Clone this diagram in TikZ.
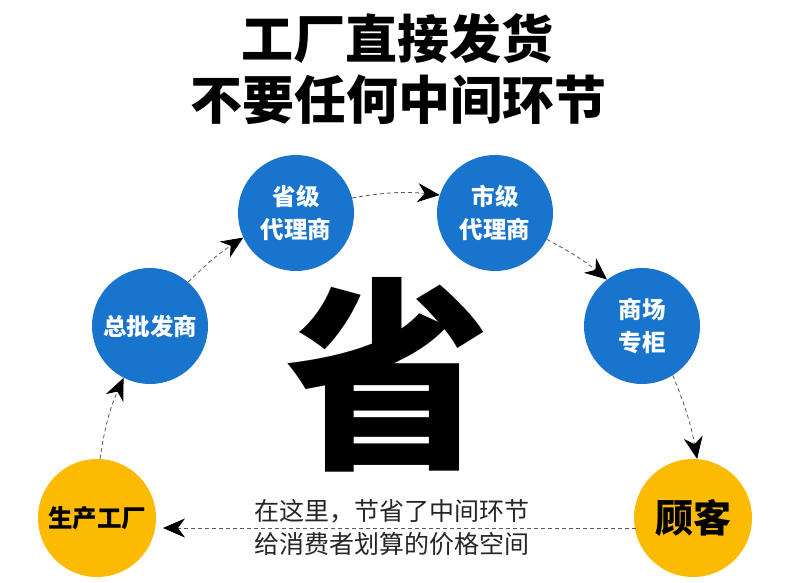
\documentclass[tikz,border=0pt]{standalone}
\usepackage{fontspec}
\newfontfamily\cjk{Noto Sans CJK SC}
\usetikzlibrary{arrows.meta}
\definecolor{cblue}{RGB}{24,116,205}
\definecolor{cyel}{RGB}{252,187,0}
\definecolor{dashgray}{RGB}{90,90,90}
\begin{document}
\begin{tikzpicture}[x=1pt,y=-1pt,
  bluecirc/.style={circle,fill=cblue,minimum size=116pt,inner sep=0pt,text=white,
    font=\cjk\bfseries\fontsize{23.5}{33}\selectfont,align=center},
  yelcirc/.style={circle,fill=cyel,minimum size=118pt,inner sep=0pt,text=black,
    font=\cjk\bfseries\fontsize{24.5}{30}\selectfont,align=center},
  flow/.style={draw=dashgray,line width=0.8pt,dash pattern=on 4pt off 3pt,
    -{Stealth[length=22pt,width=19pt,inset=7pt,color=black]}},
  title/.style={font=\cjk\bfseries\fontsize{52}{60}\selectfont,text=black,inner sep=0pt},
  note/.style={font=\cjk\fontsize{25}{30}\selectfont,text=black!85,inner sep=0pt}
]
\useasboundingbox[fill=white] (0,0) rectangle (790,582);

% titles
\node[title] (t1) at (397,39) {工厂直接发货};
\node[title] (t2) at (398,100) {不要任何中间环节};

% big character
\node[font=\cjk\bfseries\fontsize{205}{205}\selectfont,inner sep=0pt] (big) at (388,375) {省};

% circles
\node[bluecirc] (sj) at (296,213) {省级\\代理商};
\node[bluecirc] (shj) at (495,213) {市级\\代理商};
\node[bluecirc] (zp) at (150,326) {总批发商};
\node[bluecirc] (sc) at (642,326) {商场\\专柜};
\node[yelcirc] (fac) at (97,518) {生产工厂};
\node[yelcirc,font=\cjk\bfseries\fontsize{38}{40}\selectfont] (gk) at (693,518) {顾客};

% connectors
\draw[flow] (fac.87) to[bend left=8] (zp.243);
\draw[flow] (zp.49) to[bend left=6] (sj.205);
\draw[flow] (sj.15) to[bend left=8] (shj.162);
\draw[flow] (shj.333) to[bend left=6] (sc.127);
\draw[flow] (sc.302) to[bend left=6] (gk.86);

\coordinate (bstart) at (636,528);
\coordinate (bend) at (163,528);
\draw[flow] (bstart) -- (bend);

% bottom note
\node[note] (n1) at (392,511) {在这里，节省了中间环节};
\node[note] (n2) at (392,544) {给消费者划算的价格空间};
\end{tikzpicture}
\end{document}
